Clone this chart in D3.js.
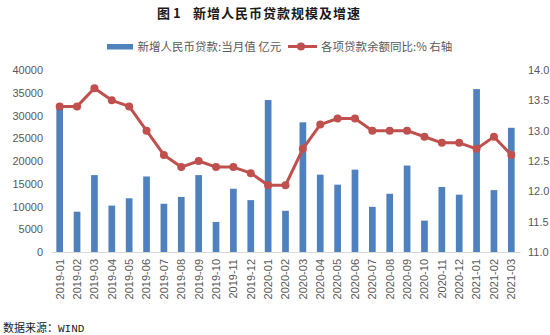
<!DOCTYPE html>
<html><head><meta charset="utf-8">
<script src="https://cdn.jsdelivr.net/npm/d3@7/dist/d3.min.js"></script>
<style>
html,body{margin:0;padding:0;background:#fff;}
svg{display:block;}
</style></head>
<body>
<svg id="chart" width="550" height="335"></svg>
<script>
const months = ["2019-01","2019-02","2019-03","2019-04","2019-05","2019-06","2019-07","2019-08","2019-09","2019-10","2019-11","2019-12","2020-01","2020-02","2020-03","2020-04","2020-05","2020-06","2020-07","2020-08","2020-09","2020-10","2020-11","2020-12","2021-01","2021-02","2021-03"];
const newLoans = [32300,8858,16900,10200,11800,16600,10600,12100,16900,6613,13900,11400,33400,9057,28500,17000,14800,18100,9927,12800,19000,6898,14300,12600,35800,13600,27300];
const loanGrowth = [13.4,13.4,13.7,13.5,13.4,13.0,12.6,12.4,12.5,12.4,12.4,12.3,12.1,12.1,12.7,13.1,13.2,13.2,13.0,13.0,13.0,12.9,12.8,12.8,12.7,12.9,12.6];
const leftTicks = [0,5000,10000,15000,20000,25000,30000,35000,40000];
const rightTicks = [11.0,11.5,12.0,12.5,13.0,13.5,14.0];
const titleNo = "图 1";
const titleText = "新增人民币贷款规模及增速";
const legendBar = "新增人民币贷款:当月值 亿元";
const legendLine = "各项贷款余额同比:% 右轴";
const sourceText = "数据来源：WIND";

const svg = d3.select("#chart");
const font = "'Noto Sans CJK SC','Liberation Sans',sans-serif";
const numFont = "'Liberation Sans',Arial,sans-serif";
const BLUE = "#4F81BD", RED = "#C0504D", GRAY = "#595959";

const x = d3.scaleBand().domain(months).range([51,520]).paddingInner(0.615).paddingOuter(0.3075);
const yL = d3.scaleLinear().domain([0,40000]).range([252,70]);
const yR = d3.scaleLinear().domain([11,14]).range([252,70]);

// title
svg.append("text").attr("x",157).attr("y",18).attr("font-family",font).attr("font-size",13).attr("font-weight","bold").attr("fill","#1a1a1a").text(titleNo);
svg.append("text").attr("x",193).attr("y",18).attr("font-family",font).attr("font-size",13).attr("font-weight","bold").attr("letter-spacing",1).attr("fill","#1a1a1a").text(titleText);

// legend
svg.append("rect").attr("x",107).attr("y",44).attr("width",26).attr("height",5.5).attr("fill",BLUE);
svg.append("text").attr("x",137.5).attr("y",50.5).attr("font-family",font).attr("font-size",11.5).attr("fill",GRAY).text(legendBar);
svg.append("line").attr("x1",288).attr("x2",317).attr("y1",46.5).attr("y2",46.5).attr("stroke",RED).attr("stroke-width",3);
svg.append("circle").attr("cx",301).attr("cy",46.5).attr("r",4).attr("fill",RED);
svg.append("text").attr("x",321).attr("y",50.5).attr("font-family",font).attr("font-size",11.5).attr("fill",GRAY).text(legendLine);

// bars
svg.append("g").selectAll("rect").data(months).join("rect")
  .attr("x",d=>x(d)).attr("width",x.bandwidth())
  .attr("y",(d,i)=>yL(newLoans[i])).attr("height",(d,i)=>yL(0)-yL(newLoans[i]))
  .attr("fill",BLUE);

// x axis
const xAxis = svg.append("g").attr("transform","translate(0,252)")
  .call(d3.axisBottom(x).tickSize(0).tickSizeOuter(0).tickPadding(0));
xAxis.select(".domain").attr("stroke","#D9D9D9").attr("stroke-width",1);
xAxis.selectAll("text").attr("font-family",numFont).attr("font-size",11).attr("fill",GRAY)
  .attr("transform","rotate(-90)").attr("text-anchor","end").attr("x",-7).attr("y",0).attr("dy","0.35em");

// left axis
const lAxis = svg.append("g").attr("transform","translate(43,0)")
  .call(d3.axisLeft(yL).tickValues(leftTicks).tickSize(0).tickPadding(0).tickFormat(d3.format("d")));
lAxis.select(".domain").remove();
lAxis.selectAll("text").attr("font-family",numFont).attr("font-size",11).attr("fill",GRAY);

// right axis
const rAxis = svg.append("g").attr("transform","translate(528,0)")
  .call(d3.axisRight(yR).tickValues(rightTicks).tickSize(0).tickPadding(0).tickFormat(d3.format(".1f")));
rAxis.select(".domain").remove();
rAxis.selectAll("text").attr("font-family",numFont).attr("font-size",11).attr("fill",GRAY);

// line
const line = d3.line().x((d,i)=>x(months[i])+x.bandwidth()/2).y(d=>yR(d));
svg.append("path").datum(loanGrowth).attr("d",line).attr("fill","none").attr("stroke",RED).attr("stroke-width",3).attr("stroke-linejoin","round");
svg.append("g").selectAll("circle").data(loanGrowth).join("circle")
  .attr("cx",(d,i)=>x(months[i])+x.bandwidth()/2).attr("cy",d=>yR(d)).attr("r",4).attr("fill",RED);

// source
svg.append("text").attr("x",3).attr("y",332).attr("font-family","'Liberation Mono','Noto Sans CJK SC',monospace").attr("font-size",11).attr("fill","#222").text(sourceText);
</script>
</body></html>
